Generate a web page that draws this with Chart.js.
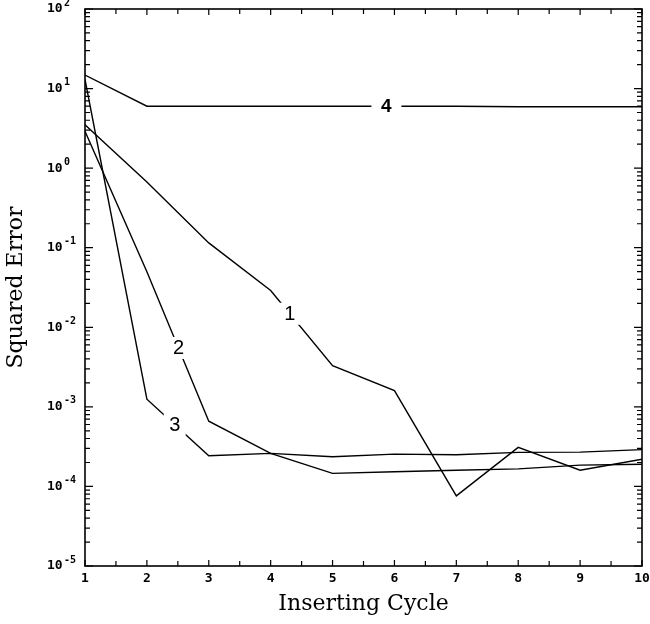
<!DOCTYPE html>
<html>
<head>
<meta charset="utf-8">
<script src="https://cdn.jsdelivr.net/npm/chart.js@4.4.0/dist/chart.umd.min.js"></script>
<style>
  html, body { margin: 0; padding: 0; background: #fff; }
  #wrap { width: 650px; height: 624px; }
</style>
</head>
<body>
<div id="wrap"><canvas id="errChart" width="650" height="624"></canvas></div>
<script>
// inserting cycles on the x axis
const cycles = [1, 2, 3, 4, 5, 6, 7, 8, 9, 10];

// squared error per cycle for each run
const run1 = [3.5, 0.67, 0.115, 0.029, 0.0033, 0.0016, 7.6e-5, 3.1e-4, 1.6e-4, 2.2e-4];
const run2 = [2.9, 0.05, 6.6e-4, 2.6e-4, 1.46e-4, 1.53e-4, 1.6e-4, 1.66e-4, 1.85e-4, 1.9e-4];
const run3 = [13, 1.25e-3, 2.43e-4, 2.6e-4, 2.36e-4, 2.55e-4, 2.5e-4, 2.68e-4, 2.7e-4, 2.9e-4];
const run4 = [14.8, 6.0, 6.0, 6.0, 6.0, 6.0, 6.0, 5.9, 5.9, 5.9];

// inline curve labels and the cycle where each one sits
const curveNames = ['1', '2', '3', '4'];
const curveLabelAt = [4.31, 2.51, 2.45, 5.87];

// axis ticks
const xTicks = [1, 2, 3, 4, 5, 6, 7, 8, 9, 10];
const yExponents = [-5, -4, -3, -2, -1, 0, 1, 2];

const allRuns = [run1, run2, run3, run4];

function toPoints(values) {
  return cycles.map((c, i) => ({ x: c, y: values[i] }));
}

// value of a run at a fractional cycle, interpolated in log space
function valueAt(values, x) {
  const i = Math.min(Math.floor(x) - 1, values.length - 2);
  const t = x - cycles[i];
  const a = Math.log10(values[i]), b = Math.log10(values[i + 1]);
  return Math.pow(10, a + (b - a) * t);
}

const framePlugin = {
  id: 'frame',
  afterDatasetsDraw(chart) {
    const ctx = chart.ctx;
    const area = chart.chartArea;
    const xs = chart.scales.x, ys = chart.scales.y;
    ctx.save();
    ctx.strokeStyle = '#000';
    ctx.fillStyle = '#000';

    // curve labels sitting in a gap of their line
    allRuns.forEach((values, k) => {
      const lx = xs.getPixelForValue(curveLabelAt[k]);
      const ly = ys.getPixelForValue(valueAt(values, curveLabelAt[k]));
      const bold = curveNames[k] === '4';
      ctx.font = (bold ? 'bold 19px' : '20px') + ' "Liberation Sans", Arial, sans-serif';
      const w = bold ? 30 : 22;
      ctx.fillStyle = '#fff';
      ctx.fillRect(lx - w / 2, ly - 11, w, 22);
      ctx.fillStyle = '#000';
      ctx.textAlign = 'center';
      ctx.textBaseline = 'middle';
      ctx.fillText(curveNames[k], lx, ly + 1);
    });

    // frame
    ctx.lineWidth = 1.6;
    ctx.strokeRect(area.left, area.top, area.right - area.left, area.bottom - area.top);

    // y ticks on both sides, pointing inward
    ctx.lineWidth = 1.2;
    ctx.beginPath();
    for (let e = -5; e <= 2; e++) {
      for (let m = 1; m <= 9; m++) {
        if (e === 2 && m > 1) break;
        const py = ys.getPixelForValue(m * Math.pow(10, e));
        const len = m === 1 ? 8 : 5;
        ctx.moveTo(area.left, py); ctx.lineTo(area.left + len, py);
        ctx.moveTo(area.right, py); ctx.lineTo(area.right - len, py);
      }
    }
    // x ticks top and bottom at whole and half cycles
    for (let v = 1; v <= 10; v += 0.5) {
      const px = xs.getPixelForValue(v);
      const len = Number.isInteger(v) ? 6 : 5;
      ctx.moveTo(px, area.bottom); ctx.lineTo(px, area.bottom - len);
      ctx.moveTo(px, area.top); ctx.lineTo(px, area.top + len);
    }
    ctx.stroke();

    // y tick labels: 10 with a raised exponent
    ctx.textAlign = 'left';
    ctx.textBaseline = 'middle';
    yExponents.forEach(e => {
      const py = ys.getPixelForValue(Math.pow(10, e));
      ctx.font = 'bold 13px "DejaVu Sans Mono", monospace';
      ctx.fillText('10', 47, py);
      ctx.font = 'bold 10px "DejaVu Sans Mono", monospace';
      ctx.fillText(e < 0 ? '-' + (-e) : String(e), 64, py - 6);
    });

    // x tick labels
    ctx.textAlign = 'center';
    ctx.font = 'bold 13px "DejaVu Sans Mono", monospace';
    xTicks.forEach(v => {
      ctx.fillText(String(v), xs.getPixelForValue(v), 579);
    });

    // axis titles
    ctx.font = '22px "DejaVu Serif", "Liberation Serif", serif';
    ctx.fillText('Inserting Cycle', (area.left + area.right) / 2, 604);
    ctx.translate(16, (area.top + area.bottom) / 2);
    ctx.rotate(-Math.PI / 2);
    ctx.fillText('Squared Error', 0, 0);
    ctx.restore();
  }
};

new Chart(document.getElementById('errChart'), {
  type: 'line',
  data: {
    datasets: allRuns.map((values, k) => ({
      label: curveNames[k],
      data: toPoints(values),
      borderColor: '#000',
      borderWidth: 1.4,
      pointRadius: 0,
      tension: 0,
      fill: false
    }))
  },
  options: {
    responsive: false,
    animation: false,
    layout: { padding: { left: 85, top: 9, right: 8, bottom: 58 } },
    plugins: { legend: { display: false }, tooltip: { enabled: false } },
    scales: {
      x: { type: 'linear', min: 1, max: 10, display: false },
      y: { type: 'logarithmic', min: 1e-5, max: 1e2, display: false }
    }
  },
  plugins: [framePlugin]
});
</script>
</body>
</html>
